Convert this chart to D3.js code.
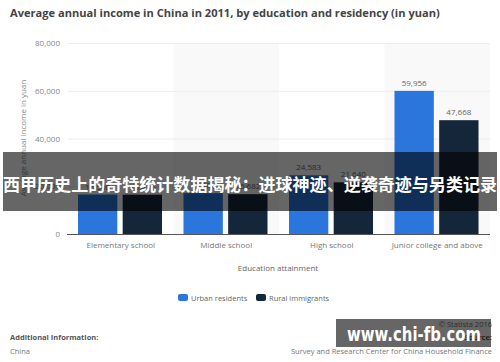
<!DOCTYPE html>
<html lang="en">
<head>
    <meta charset="UTF-8">
    <title>Average annual income in China in 2011</title>
    <style>
        body {
            margin: 0;
            background: #fff;
            font-family: "Open Sans", Arial, sans-serif;
        }
        svg {
            display: block;
        }
    </style>
</head>
<body>
    <svg width="500" height="362"></svg>

    <script src="https://d3js.org/d3.v7.min.js"></script>
    <script>
        // data
        const categories = ["Elementary school", "Middle school", "High school", "Junior college and above"];
        const seriesNames = ["Urban residents", "Rural immigrants"];
        const urbanValues = [16540, 17100, 24583, 59956];
        const ruralValues = [16470, 16682, 21640, 47668];
        const yTicks = [0, 20000, 40000, 60000, 80000];
        const seriesColors = ["#2a76dc", "#14263a"];

        const svg = d3.select("svg");
        const fmt = d3.format(",");

        const x = d3.scaleBand().domain(categories).range([68, 490]).padding(0);
        const xSub = d3.scaleBand().domain(seriesNames).range([10, 94]).paddingInner(0.12);
        const y = d3.scaleLinear().domain([0, 80000]).range([234, 43]);

        // title
        svg.append("text")
            .attr("x", 10)
            .attr("y", 17)
            .style("font-size", "11.1px")
            .style("font-weight", "bold")
            .style("fill", "#444")
            .text("Average annual income in China in 2011, by education and residency (in yuan)");

        // alternating column bands
        svg.selectAll("rect.band")
            .data(categories.filter((d, i) => i % 2 === 1))
            .enter()
            .append("rect")
            .attr("class", "band")
            .attr("x", d => x(d))
            .attr("y", y(80000))
            .attr("width", x.bandwidth())
            .attr("height", y(0) - y(80000))
            .style("fill", "#f9f9f9");

        // y axis with grid
        const yAxis = d3.axisLeft(y)
            .tickValues(yTicks)
            .tickSize(-(490 - 68))
            .tickPadding(8)
            .tickFormat(fmt);

        const gy = svg.append("g")
            .attr("transform", "translate(68,0)")
            .call(yAxis);
        gy.select(".domain").remove();
        gy.selectAll(".tick line").style("stroke", "#ececec");
        gy.selectAll(".tick text")
            .style("font-family", "'Open Sans', Arial, sans-serif")
            .style("font-size", "8px")
            .style("fill", "#888");

        svg.append("text")
            .attr("transform", "translate(26," + 138 + ") rotate(-90)")
            .attr("text-anchor", "middle")
            .style("font-size", "8px")
            .style("fill", "#888")
            .text("Average annual income in yuan");

        // bars
        const rows = categories.map((c, i) => ({
            cat: c,
            vals: [
                { name: seriesNames[0], v: urbanValues[i], color: seriesColors[0] },
                { name: seriesNames[1], v: ruralValues[i], color: seriesColors[1] }
            ]
        }));

        const groups = svg.selectAll("g.grp")
            .data(rows)
            .enter()
            .append("g")
            .attr("class", "grp")
            .attr("transform", d => "translate(" + x(d.cat) + ",0)");

        groups.selectAll("rect")
            .data(d => d.vals)
            .enter()
            .append("rect")
            .attr("x", d => xSub(d.name))
            .attr("y", d => y(d.v))
            .attr("width", xSub.bandwidth())
            .attr("height", d => y(0) - y(d.v))
            .style("fill", d => d.color);

        groups.selectAll("text")
            .data(d => d.vals)
            .enter()
            .append("text")
            .attr("x", d => xSub(d.name) + xSub.bandwidth() / 2)
            .attr("y", d => y(d.v) - 5)
            .attr("text-anchor", "middle")
            .style("font-size", "8px")
            .style("fill", "#666")
            .text(d => fmt(d.v));

        // x axis
        const gx = svg.append("g")
            .attr("transform", "translate(0," + y(0) + ")")
            .call(d3.axisBottom(x).tickSize(0).tickPadding(8));
        gx.select(".domain").style("stroke", "#555").attr("d", "M67,0.5H490");
        gx.selectAll(".tick text")
            .style("font-family", "'Open Sans', Arial, sans-serif")
            .style("font-size", "8px")
            .style("fill", "#777");

        svg.append("text")
            .attr("x", 278)
            .attr("y", 271)
            .attr("text-anchor", "middle")
            .style("font-size", "8px")
            .style("fill", "#666")
            .text("Education attainment");

        // legend
        const legendX = [178, 256];
        const legend = svg.selectAll("g.leg")
            .data(seriesNames)
            .enter()
            .append("g")
            .attr("class", "leg")
            .attr("transform", (d, i) => "translate(" + legendX[i] + ",294)");
        legend.append("rect")
            .attr("width", 10)
            .attr("height", 7)
            .attr("rx", 2)
            .style("fill", (d, i) => seriesColors[i]);
        legend.append("text")
            .attr("x", 13)
            .attr("y", 6.5)
            .style("font-size", "7.5px")
            .style("fill", "#666")
            .text(d => d);

        // footer
        svg.append("text")
            .attr("x", 10).attr("y", 340)
            .style("font-size", "7.5px").style("font-weight", "bold").style("fill", "#555")
            .text("Additional Information:");
        svg.append("text")
            .attr("x", 10).attr("y", 354)
            .style("font-size", "7.5px").style("fill", "#777")
            .text("China");
        const right = [
            { t: "© Statista 2016", y: 327, b: false },
            { t: "Source:", y: 340, b: true },
            { t: "Survey and Research Center for China Household Finance", y: 354, b: false }
        ];
        svg.selectAll("text.src")
            .data(right)
            .enter()
            .append("text")
            .attr("class", "src")
            .attr("x", 492)
            .attr("y", d => d.y)
            .attr("text-anchor", "end")
            .style("font-size", "7.5px")
            .style("font-weight", d => d.b ? "bold" : "normal")
            .style("fill", d => d.b ? "#555" : "#777")
            .text(d => d.t);

        // overlay banner
        svg.append("rect")
            .attr("x", 3).attr("y", 152)
            .attr("width", 494).attr("height", 59)
            .style("fill", "rgba(0,0,0,0.6)");
        svg.append("text")
            .attr("x", 250).attr("y", 191)
            .attr("text-anchor", "middle")
            .attr("textLength", 494)
            .attr("lengthAdjust", "spacingAndGlyphs")
            .style("font-family", "'Noto Sans CJK SC', sans-serif")
            .style("font-size", "17px")
            .style("font-weight", "bold")
            .style("fill", "#fff")
            .text("西甲历史上的奇特统计数据揭秘：进球神迹、逆袭奇迹与另类记录");

        // watermark
        svg.append("rect")
            .attr("x", 336).attr("y", 319)
            .attr("width", 155).attr("height", 28)
            .style("fill", "rgba(0,0,0,0.6)");
        svg.append("text")
            .attr("x", 347).attr("y", 341)
            .attr("textLength", 134)
            .attr("lengthAdjust", "spacingAndGlyphs")
            .style("font-family", "'DejaVu Sans', sans-serif")
            .style("font-size", "19px")
            .style("font-weight", "bold")
            .style("fill", "#fff")
            .text("www.chi-fb.com");
    </script>
</body>
</html>
